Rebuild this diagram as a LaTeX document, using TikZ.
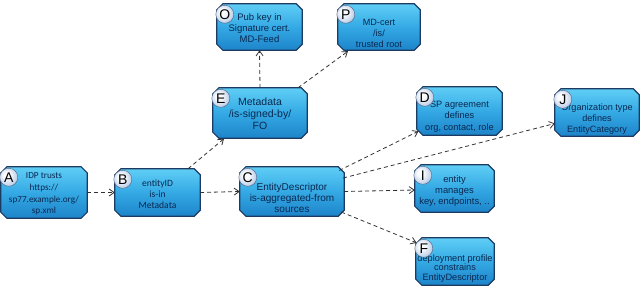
\documentclass[tikz,border=0pt]{standalone}
\usepackage{fontspec}
\setmainfont{Liberation Sans}
\newfontfamily\calib{Carlito}
\usetikzlibrary{arrows.meta,calc}
\definecolor{boxtop}{RGB}{95,206,246}
\definecolor{boxmid}{RGB}{52,169,228}
\definecolor{boxbot}{RGB}{29,132,202}
\definecolor{boxline}{RGB}{28,58,98}
\definecolor{txtcol}{RGB}{10,40,80}
\definecolor{badgecol}{RGB}{200,214,236}
\definecolor{badgedark}{RGB}{140,165,200}
\definecolor{badgeline}{RGB}{80,100,130}
\definecolor{arrowcol}{RGB}{50,50,50}
\pgfdeclareradialshading{badgeshade}{\pgfpoint{-8bp}{8bp}}{%
  color(0bp)=(white); color(10bp)=(white!85!badgecol); color(24bp)=(badgecol);
  color(34bp)=(badgedark); color(50bp)=(badgedark)}
\begin{document}
\begin{tikzpicture}[x=1pt,y=-1pt,
  box/.style={rectangle, inner sep=0pt},
  boxpath/.style={draw=boxline, line width=1.2pt, line join=miter,
    top color=boxtop, bottom color=boxbot, middle color=boxmid},
  txt/.style={align=center, text=txtcol, inner sep=0pt},
  badge/.style={circle, minimum size=18pt, inner sep=0pt, shading=badgeshade, draw=badgeline,
    line width=0.4pt, text=black, font=\fontsize{14}{14}\selectfont},
  link/.style={draw=arrowcol, line width=0.8pt, dash pattern=on 4pt off 3pt,
    -{Straight Barb[length=5pt,width=7pt]}}]
\useasboundingbox (0,0) rectangle (640,286);

% box frames
\node[box, minimum width=86pt, minimum height=51pt] (A) at (44,192.5) {};
\node[box, minimum width=85pt, minimum height=47pt] (B) at (157.5,192.5) {};
\node[box, minimum width=104pt, minimum height=49pt] (C) at (292,191.5) {};
\node[box, minimum width=94pt, minimum height=50pt] (E) at (260,113) {};
\node[box, minimum width=85pt, minimum height=46pt] (O) at (259.5,27) {};
\node[box, minimum width=82pt, minimum height=46pt] (P) at (379,27) {};
\node[box, minimum width=85pt, minimum height=48pt] (D) at (459.5,111) {};
\node[box, minimum width=84pt, minimum height=47pt] (J) at (597,112.5) {};
\node[box, minimum width=79pt, minimum height=47pt] (I) at (454.5,188.5) {};
\node[box, minimum width=78pt, minimum height=47pt] (F) at (455,261.5) {};

% chamfered outlines
\foreach \n in {A,B,C,E,O,P,D,J,I,F}{
  \path[boxpath] ($(\n.north west)+(6,0)$) -- ($(\n.north east)+(-6,0)$) -- ($(\n.north east)+(0,6)$)
    -- ($(\n.south east)+(0,-6)$) -- ($(\n.south east)+(-6,0)$) -- ($(\n.south west)+(6,0)$)
    -- ($(\n.south west)+(0,-6)$) -- ($(\n.north west)+(0,6)$) -- cycle;
}

% texts
\node[txt, font=\calib\fontsize{9.2}{11.7}\selectfont] (At) at ($(A)+(0,1.5)$) {IDP trusts\\https://\\sp77.example.org/\\sp.xml};
\node[txt, font=\calib\fontsize{9.6}{11}\selectfont] (Bt) at ($(B)+(0,1.5)$) {entityID\\is-in\\Metadata};
\node[txt, font=\fontsize{10}{11.3}\selectfont] (Ct) at ($(C)+(0,6.5)$) {EntityDescriptor\\is-aggregated-from\\sources};
\node[txt, font=\fontsize{10.5}{12}\selectfont] (Et) at ($(E)+(0,1)$) {Metadata\\/is-signed-by/\\FO};
\node[txt, font=\fontsize{9.5}{11.3}\selectfont] (Ot) at ($(O)+(0,1)$) {Pub key in\\Signature cert.\\MD-Feed};
\node[txt, font=\fontsize{9.1}{10.6}\selectfont] (Pt) at ($(P)+(0,6.5)$) {MD-cert\\/is/\\trusted root};
\node[txt, font=\fontsize{9.2}{11.5}\selectfont] (Dt) at ($(D)+(0,5.5)$) {SP agreement\\defines\\org, contact, role};
\node[txt, font=\fontsize{9.1}{11}\selectfont] (Jt) at ($(J)+(0,6.5)$) {Organization type\\defines\\EntityCategory};
\node[txt, font=\fontsize{9.4}{11}\selectfont] (It) at ($(I)+(0,2.5)$) {entity\\manages\\key, endpoints, ..};
\node[txt, font=\fontsize{9.2}{9.8}\selectfont] (Ft) at ($(F)+(0,7)$) {deployment profile\\constrains\\EntityDescriptor};

% badges
\foreach \n in {A,B,C,E,O,P,D,J,I,F}{
  \node[badge] (\n b) at ($(\n.north west)+(8,10.5)$) {\n};
}

% connectors
\draw[link] (A.east) -- (B.west);
\draw[link] (B.east) -- (C.west);
\draw[link] ($(B.north)+(30.5,0)$) -- ($(E.south)+(-36,0.5)$);
\draw[link] (E.north) -- (O.south);
\draw[link] ($(E.north)+(38,0)$) -- ($(P.south)+(-31,1)$);
\draw[link] ($(C.east)+(-5,-21)$) -- ($(D.south)+(-41,-4)$);
\draw[link] ($(C.east)+(-1,-13.5)$) -- ($(J.west)+(0,11)$);
\draw[link] (C.east) -- ($(I.west)+(0,1.5)$);
\draw[link] ($(C.east)+(-3,20.5)$) -- ($(F.north)+(-38.5,5)$);
\end{tikzpicture}
\end{document}
